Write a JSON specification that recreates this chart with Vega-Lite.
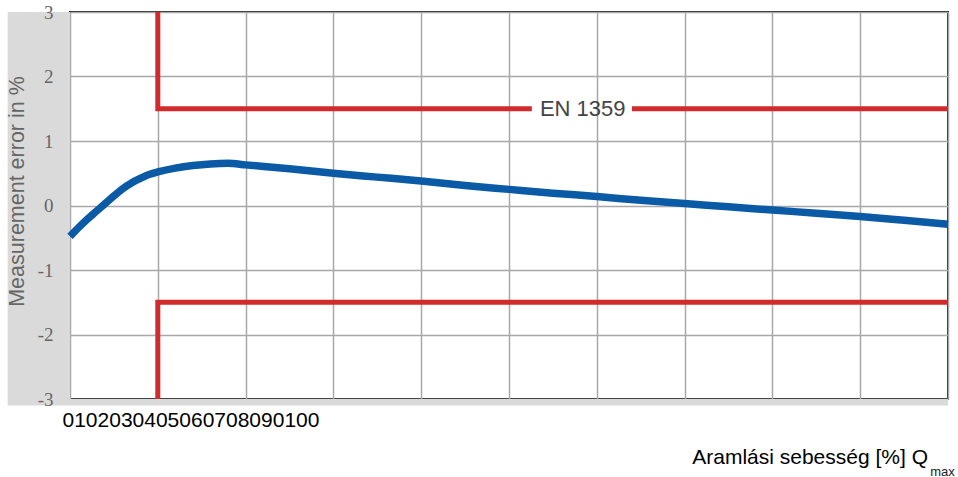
{
  "$schema": "https://vega.github.io/schema/vega-lite/v6.json",
  "width": 878,
  "height": 387,
  "autosize": {"type": "none"},
  "padding": {"left": 70, "top": 12, "right": 10, "bottom": 78},
  "background": "white",
  "config": {
    "view": {"stroke": "#222", "strokeWidth": 2, "fill": "white"},
    "font": "Liberation Sans"
  },
  "title": {
    "text": "Aramlási sebesség [%] Q",
    "orient": "bottom",
    "anchor": "end",
    "frame": "group",
    "dx": -20,
    "offset": -14,
    "fontSize": 21,
    "fontWeight": "normal",
    "font": "Liberation Sans",
    "color": "#000",
    "baseline": "alphabetic"
  },
  "datasets": {
    "band": [
      {"x": -7.1, "x2": 0, "y": -3.1, "y2": 3},
      {"x": 0, "x2": 100, "y": -3.1, "y2": -3}
    ],
    "limits": [
      {"x": 10, "y": 3, "seg": "a", "i": 1},
      {"x": 10, "y": 1.5, "seg": "a", "i": 2},
      {"x": 52.6, "y": 1.5, "seg": "a", "i": 3},
      {"x": 64, "y": 1.5, "seg": "b", "i": 1},
      {"x": 100, "y": 1.5, "seg": "b", "i": 2},
      {"x": 10, "y": -3, "seg": "c", "i": 1},
      {"x": 10, "y": -1.5, "seg": "c", "i": 2},
      {"x": 100, "y": -1.5, "seg": "c", "i": 3}
    ],
    "curve": [
      {"x": 0, "y": -0.48},
      {"x": 1, "y": -0.34},
      {"x": 2, "y": -0.21},
      {"x": 3, "y": -0.09},
      {"x": 4, "y": 0.03},
      {"x": 5, "y": 0.15},
      {"x": 6, "y": 0.26},
      {"x": 7, "y": 0.35},
      {"x": 8, "y": 0.42},
      {"x": 9, "y": 0.48},
      {"x": 10, "y": 0.52},
      {"x": 12, "y": 0.58},
      {"x": 14, "y": 0.62},
      {"x": 16, "y": 0.645},
      {"x": 18, "y": 0.655},
      {"x": 20, "y": 0.63},
      {"x": 25, "y": 0.57},
      {"x": 30, "y": 0.5},
      {"x": 35, "y": 0.44},
      {"x": 40, "y": 0.38},
      {"x": 45, "y": 0.31},
      {"x": 50, "y": 0.25},
      {"x": 55, "y": 0.19},
      {"x": 60, "y": 0.14},
      {"x": 65, "y": 0.08},
      {"x": 70, "y": 0.03},
      {"x": 75, "y": -0.02},
      {"x": 80, "y": -0.07},
      {"x": 85, "y": -0.12},
      {"x": 90, "y": -0.17},
      {"x": 95, "y": -0.23},
      {"x": 100, "y": -0.29}
    ],
    "label": [{"x": 58.4, "y": 1.5, "text": "EN 1359"}]
  },
  "encoding": {
    "x": {
      "field": "x",
      "type": "quantitative",
      "scale": {"domain": [0, 100], "nice": false, "zero": false},
      "axis": {
        "values": [0, 10, 20, 30, 40, 50, 60, 70, 80, 90, 100],
        "title": "0102030405060708090100",
        "titleFont": "Liberation Sans",
        "titleFontSize": 21,
        "titleFontWeight": "normal",
        "titleColor": "#000",
        "titleX": -8,
        "titleY": 27,
        "titleAlign": "left",
        "titleAnchor": "start",
        "titleBaseline": "alphabetic",
        "labelExpr": "datum.value == 100 ? 'max' : ''",
        "labelFont": "Liberation Sans",
        "labelFontSize": 13,
        "labelColor": "#222",
        "labelPadding": 76,
        "labelBaseline": "alphabetic",
        "labelOffset": -6,
        "labelFlush": false,
        "labelOverlap": false,
        "ticks": false,
        "domain": false,
        "grid": true,
        "gridColor": "#a8a8a8",
        "gridWidth": 1.5,
        "gridOpacity": 1
      }
    }
  },
  "resolve": {"scale": {"y": "independent"}, "axis": {"y": "independent"}},
  "layer": [
    {
      "data": {"name": "band"},
      "mark": {"type": "rect", "color": "#dadada"},
      "encoding": {
        "x2": {"field": "x2"},
        "y": {
          "field": "y",
          "type": "quantitative",
          "scale": {"domain": [-3, 3], "nice": false, "zero": false},
          "axis": {
            "orient": "right",
            "values": [-3, -2, -1, 0, 1, 2, 3],
            "title": null,
            "labels": false,
            "ticks": false,
            "domain": false,
            "grid": true,
            "gridColor": "#a8a8a8",
            "gridWidth": 1.5,
            "gridOpacity": 1,
            "zindex": 0
          }
        },
        "y2": {"field": "y2"}
      }
    },
    {
      "encoding": {
        "y": {
          "field": "y",
          "type": "quantitative",
          "scale": {"domain": [-3, 3], "nice": false, "zero": false},
          "axis": {
            "orient": "left",
            "values": [-3, -2, -1, 0, 1, 2, 3],
            "zindex": 1,
            "title": "Measurement error in %",
            "titleFont": "Liberation Sans",
            "titleFontSize": 21.5,
            "titleFontWeight": "normal",
            "titleColor": "#666",
            "titleAngle": -90,
            "titleX": -47,
            "titleY": 179,
            "titleAlign": "center",
            "titleBaseline": "alphabetic",
            "labelExpr": "'' + datum.value",
            "labelFont": "Liberation Sans Narrow",
            "labelFontSize": 19,
            "labelColor": "#666",
            "labelPadding": 17,
            "labelBaseline": "middle",
            "labelFlush": false,
            "labelOverlap": false,
            "ticks": false,
            "domain": false,
            "grid": false
          }
        }
      },
      "layer": [
        {
          "data": {"name": "limits"},
          "mark": {"type": "line", "color": "#d22b2b", "strokeWidth": 5, "strokeJoin": "miter", "strokeCap": "butt"},
          "encoding": {"detail": {"field": "seg"}, "order": {"field": "i", "type": "quantitative"}}
        },
        {
          "data": {"name": "curve"},
          "mark": {"type": "line", "color": "#0a5aa5", "strokeWidth": 7.5, "interpolate": "monotone", "strokeCap": "butt"},
          "encoding": {}
        },
        {
          "data": {"name": "label"},
          "mark": {"type": "text", "fontSize": 22, "color": "#444", "font": "Liberation Sans", "baseline": "middle", "align": "center"},
          "encoding": {"text": {"field": "text"}}
        }
      ]
    }
  ]
}
